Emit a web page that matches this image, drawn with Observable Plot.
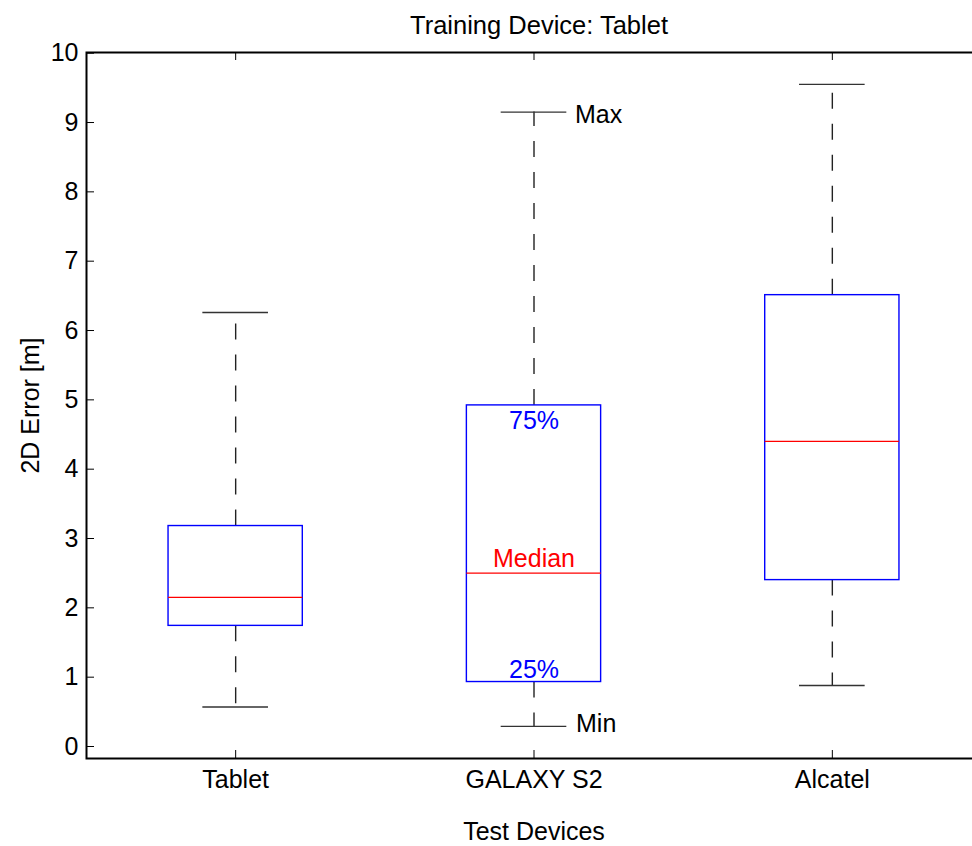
<!DOCTYPE html>
<html>
<head>
<meta charset="utf-8">
<script src="https://cdn.jsdelivr.net/npm/d3@7"></script>
<script src="https://cdn.jsdelivr.net/npm/@observablehq/plot@0.6"></script>
<style>
  html, body { margin: 0; padding: 0; background: #fff; overflow: hidden; }
  #chart svg { overflow: hidden; }
</style>
</head>
<body>
<div id="chart"></div>
<script>
// ---- data ----
const devices = ["Tablet", "GALAXY S2", "Alcatel"];
const maxV   = [6.26, 9.15, 9.55];
const q3V    = [3.18, 4.92, 6.51];
const medV   = [2.15, 2.50, 4.40];
const q1V    = [1.74, 0.93, 2.40];
const minV   = [0.57, 0.29, 0.88];
const yTicks = [0, 1, 2, 3, 4, 5, 6, 7, 8, 9, 10];
const title = "Training Device: Tablet";
const xLabel = "Test Devices";
const yLabel = "2D Error [m]";
// annotations on the GALAXY S2 box
const noteText = ["Max", "75%", "Median", "25%", "Min"];
const noteKey  = ["max", "q3", "med", "q1", "min"];

const rows = devices.map((d, i) => ({
  device: d, pos: i + 1,
  max: maxV[i], q3: q3V[i], med: medV[i], q1: q1V[i], min: minV[i]
}));
const g = rows[1];
const notes = noteText.map((t, i) => ({ text: t, pos: g.pos, v: g[noteKey[i]], k: noteKey[i] }));
const note = k => notes.filter(n => n.k === k);

const BW = 0.225, CW = 0.11;
const FS = 25;
const font = "'Liberation Sans', Arial, Helvetica, sans-serif";
const frameH = 706, frameW = 895;

const chart = Plot.plot({
  width: 972,
  height: 846,
  marginLeft: 86,
  marginRight: -9,
  marginTop: 52,
  marginBottom: 88,
  style: { fontFamily: font, fontSize: FS + "px", color: "#000", background: "#fff" },
  x: { type: "linear", domain: [0.5, 3.5] },
  y: { type: "linear", domain: [-0.173, 10.01] },
  marks: [
    // whiskers
    Plot.ruleX(rows, { x: "pos", y1: "q3", y2: "max", stroke: "#222", strokeWidth: 1.4, strokeDasharray: "16,15" }),
    Plot.ruleX(rows, { x: "pos", y1: "q1", y2: "min", stroke: "#222", strokeWidth: 1.4, strokeDasharray: "16,15" }),
    // caps
    Plot.ruleY(rows, { y: "max", x1: d => d.pos - CW, x2: d => d.pos + CW, stroke: "#333", strokeWidth: 1.4 }),
    Plot.ruleY(rows, { y: "min", x1: d => d.pos - CW, x2: d => d.pos + CW, stroke: "#333", strokeWidth: 1.4 }),
    // boxes
    Plot.rect(rows, { x1: d => d.pos - BW, x2: d => d.pos + BW, y1: "q1", y2: "q3", fill: "white", stroke: "#0000ff", strokeWidth: 1.4 }),
    // medians
    Plot.ruleY(rows, { y: "med", x1: d => d.pos - BW, x2: d => d.pos + BW, stroke: "#ff0000", strokeWidth: 1.2 }),
    // annotations
    Plot.text(note("max"), { x: "pos", y: "v", text: "text", textAnchor: "start", dx: 41, dy: 3, fill: "black", fontSize: FS }),
    Plot.text(note("min"), { x: "pos", y: "v", text: "text", textAnchor: "start", dx: 42, dy: -2, fill: "black", fontSize: FS }),
    Plot.text(note("q3"), { x: "pos", y: "v", text: "text", dy: 16, fill: "#0000ff", fontSize: FS }),
    Plot.text(note("q1"), { x: "pos", y: "v", text: "text", dy: -12, fill: "#0000ff", fontSize: FS }),
    Plot.text(note("med"), { x: "pos", y: "v", text: "text", dy: -14, fill: "#ff0000", fontSize: FS }),
    // inward ticks
    Plot.ruleY(yTicks, { y: d => d, insetRight: frameW - 8, stroke: "black", strokeWidth: 1 }),
    Plot.ruleX(rows, { x: "pos", insetTop: frameH - 8, stroke: "black", strokeWidth: 1 }),
    Plot.ruleX(rows, { x: "pos", insetBottom: frameH - 8, stroke: "black", strokeWidth: 1 }),
    // axes
    Plot.axisY(yTicks, { tickSize: 0, tickPadding: 8, fontSize: FS, tickFormat: d => String(d), label: null }),
    Plot.axisX([1, 2, 3], { tickSize: 0, tickPadding: 12, fontSize: FS, tickFormat: d => devices[d - 1], label: null }),
    Plot.frame({ stroke: "black", strokeWidth: 2 }),
    // titles
    Plot.text([title], { frameAnchor: "top", lineAnchor: "middle", dx: 5, dy: -27, fontSize: 25.5, fill: "black" }),
    Plot.text([xLabel], { frameAnchor: "bottom", lineAnchor: "middle", dy: 73, fontSize: FS, fill: "black" }),
    Plot.text([yLabel], { frameAnchor: "left", textAnchor: "middle", lineAnchor: "middle", dx: -56, rotate: -90, fontSize: FS, fill: "black" })
  ]
});
document.getElementById("chart").append(chart);
</script>
</body>
</html>
